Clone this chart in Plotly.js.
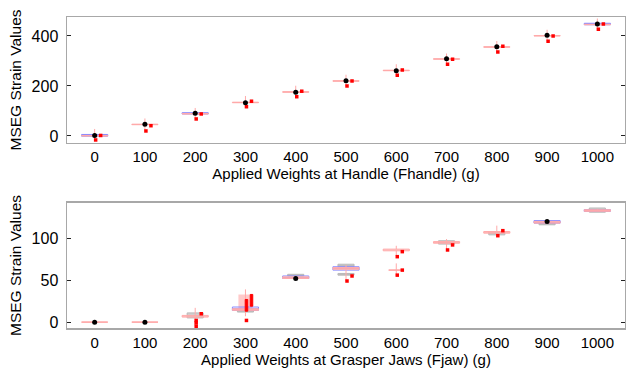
<!DOCTYPE html>
<html>
<head>
<meta charset="utf-8">
<script src="https://cdn.plot.ly/plotly-3.0.1.min.js"></script>
<style>html,body{margin:0;padding:0;background:#fff;}#chart{width:626px;height:376px;}</style>
</head>
<body>
<div id="chart"></div>
<script>
// ---------- DATA ----------
const weights = [0, 100, 200, 300, 400, 500, 600, 700, 800, 900, 1000];
const tickLabels = ['0','100','200','300','400','500','600','700','800','900','1000'];

// Top panel (Fhandle)
const topMedian = [1, 46, 89, 134, 176, 220, 262, 308, 356, 401, 446];
const topQ1     = [0, 45, 88, 133, 175, 219, 261, 307, 355, 400, 445];
const topQ3     = [2, 47, 90, 135, 177, 221, 263, 309, 357, 402, 447];
const topLow    = [-16, 22, 68, 117, 157, 200, 243, 287, 336, 379, 427];
const topHigh   = [28, 70, 112, 160, 201, 245, 287, 330, 380, 425, 470];
const topMean   = [2, 47, 91, 133, 175, 221, 261, 309, 357, 403, 448];
const topOutRight = [2, 41, 88, 139, 179, 220, 264, 307, 359, 400, 448];
const topOutBelow = [-16, 20, 68, 117, 157, 200, 243, 287, 336, 379, 427];
const topBlueW  = [0, 200, 1000];
const topBlueQ1 = [-1, 88, 445];
const topBlueMed = [3, 91, 449];
const topBlueQ3 = [6, 93, 451];

// Bottom panel (Fjaw)
const botMedian = [0, 0, 7, 15, 53, 64, 86, 95, 107, 119, 133];
const botQ1     = [0, 0, 6, 14, 52, 63, 85, 94, 106, 118, 132];
const botQ3     = [0, 0, 8, 16, 54, 65, 87, 96, 108, 120, 134];
const botLow    = [0, 0, -5, 7, 52, 49, 79, 86, 103, 118, 132];
const botHigh   = [0, 0, 17, 39, 55, 68, 91, 99, 115, 121, 135];
const botDotW   = [0, 100, 400, 900];
const botDotY   = [0, 0, 52, 120];
const botOutRightW = [200, 500, 600, 600, 700, 800];
const botOutRightY = [10, 55, 84, 62, 92, 109];
const botOutBelowW = [200, 200, 200, 300, 500, 600, 600, 700, 800];
const botOutBelowY = [2, -1, -5, 2, 49, 78, 56, 86, 103];
// second (lower) group at 600
const bot2W = [600];
const bot2Med = [62];
const bot2Low = [55];
const bot2High = [70];
// blue boxes
const botBlueW  = [300, 400, 500, 900, 1000];
const botBlueQ1 = [14, 52, 62, 118, 132];
const botBlueMed = [16, 53, 64, 119, 133];
const botBlueQ3 = [18, 55, 66, 121, 134];
// gray boxes
const botGrayW  = [200, 300, 400, 500, 500, 700, 800, 900, 1000];
const botGrayQ1 = [5, 12, 55, 66, 56, 93, 104, 116, 131];
const botGrayMed = [8, 13, 56, 67, 57, 95, 106, 117, 133];
const botGrayQ3 = [11, 13.5, 57, 69, 58, 97, 108, 118, 136];
// 300 g shaded range and bars
const botShadeW = [300];
const botShadeQ1 = [14];
const botShadeQ3 = [33];
const botBarW = [300, 300];
const botBarLow = [13, 19];
const botBarHigh = [27, 33];

// ---------- STYLE ----------
const FONT = 'Liberation Sans, Arial, Helvetica, sans-serif';
const lightRed = '#ffaaaa';
const blue = '#8888ff';
const gray = '#d2d2d2';
const offR = 12, offB = 2, barOff = [2, 12];

function box(x, q1, med, q3, lo, hi, xa, ya, lineColor, fill, width, lw) {
  return {
    type: 'box', x: x, q1: q1, median: med, q3: q3, lowerfence: lo, upperfence: hi,
    xaxis: xa, yaxis: ya, width: width, whiskerwidth: 0, boxpoints: false,
    line: {color: lineColor, width: lw || 1}, fillcolor: fill, showlegend: false, hoverinfo: 'skip'
  };
}
function pts(x, y, xa, ya, color, size, symbol) {
  return {type: 'scatter', mode: 'markers', x: x, y: y, xaxis: xa, yaxis: ya,
    marker: {color: color, size: size, symbol: symbol, line: {width: 0}}, showlegend: false, hoverinfo: 'skip'};
}
const shift = (arr, d) => arr.map(v => v + d);

const traces = [
  // top
  box(topBlueW, topBlueQ1, topBlueMed, topBlueQ3, topBlueQ1, topBlueQ3, 'x', 'y', blue, 'rgba(0,0,0,0)', 52),
  box(weights, topQ1, topMedian, topQ3, topLow, topHigh, 'x', 'y', lightRed, 'rgba(0,0,0,0)', 52),
  pts(shift(weights, offR), topOutRight, 'x', 'y', 'red', 3.5, 'square'),
  pts(shift(weights, offB), topOutBelow, 'x', 'y', 'red', 3.5, 'square'),
  pts(weights, topMean, 'x', 'y', 'black', 5, 'circle'),
  // bottom
  box(botShadeW, botShadeQ1, botShadeQ1, botShadeQ3, botShadeQ1, botShadeQ3, 'x2', 'y2', 'rgba(0,0,0,0)', 'rgba(255,80,80,0.3)', 28),
  box(botGrayW, botGrayQ1, botGrayMed, botGrayQ3, botGrayQ1, botGrayQ3, 'x2', 'y2', '#b8b8b8', gray, 32),
  box(botBlueW, botBlueQ1, botBlueMed, botBlueQ3, botBlueQ1, botBlueQ3, 'x2', 'y2', blue, 'rgba(0,0,0,0)', 52),
  box(weights, botQ1, botMedian, botQ3, botLow, botHigh, 'x2', 'y2', lightRed, 'rgba(0,0,0,0)', 52),
  box(bot2W, bot2Med, bot2Med, bot2Med, bot2Low, bot2High, 'x2', 'y2', lightRed, 'rgba(0,0,0,0)', 30),
  box(botBarW.map((w, i) => w + barOff[i]), botBarLow, botBarLow, botBarHigh, botBarLow, botBarHigh, 'x2', 'y2', 'red', 'red', 5),
  pts(shift(botOutRightW, offR), botOutRightY, 'x2', 'y2', 'red', 3.5, 'square'),
  pts(shift(botOutBelowW, offB), botOutBelowY, 'x2', 'y2', 'red', 3.5, 'square'),
  pts(botDotW, botDotY, 'x2', 'y2', 'black', 5, 'circle')
];

const xCommon = {
  range: [-55, 1055], tickmode: 'array', tickvals: weights, ticktext: tickLabels,
  ticks: '', showline: true, mirror: true, linecolor: '#a8a8a8', linewidth: 1.5,
  showgrid: false, zeroline: false, tickfont: {family: FONT, size: 15, color: '#000'}
};
const yCommon = {
  ticks: 'inside', ticklen: 4, tickcolor: '#222', tickwidth: 1, showline: true, mirror: 'ticks',
  linecolor: '#a8a8a8', linewidth: 1.5, showgrid: false, zeroline: false,
  tickfont: {family: FONT, size: 16, color: '#000'}, ticklabelstandoff: 4
};

const layout = {
  width: 626, height: 376,
  margin: {l: 67, r: 1, t: 17, b: 48},
  paper_bgcolor: '#fff', plot_bgcolor: '#fff',
  boxmode: 'overlay', showlegend: false,
  font: {family: FONT, color: '#000'},
  xaxis: Object.assign({}, xCommon, {anchor: 'y', domain: [0, 1],
    title: {text: 'Applied Weights at Handle (Fhandle) (g)', font: {family: FONT, size: 15, color: '#000'}, standoff: 2}}),
  yaxis: Object.assign({}, yCommon, {anchor: 'x', domain: [0.595, 1], range: [-28, 476], tickvals: [0, 200, 400],
    title: {text: 'MSEG Strain Values', font: {family: FONT, size: 15.5, color: '#000'}, standoff: 6}}),
  xaxis2: Object.assign({}, xCommon, {anchor: 'y2', domain: [0, 1],
    title: {text: 'Applied Weights at Grasper Jaws (Fjaw) (g)', font: {family: FONT, size: 15, color: '#000'}, standoff: 2}}),
  yaxis2: Object.assign({}, yCommon, {anchor: 'x2', domain: [0, 0.402], range: [-7, 142], tickvals: [0, 50, 100],
    title: {text: 'MSEG Strain Values', font: {family: FONT, size: 15.5, color: '#000'}, standoff: 6}})
};

Plotly.newPlot('chart', traces, layout, {displayModeBar: false, staticPlot: true});
</script>
</body>
</html>
